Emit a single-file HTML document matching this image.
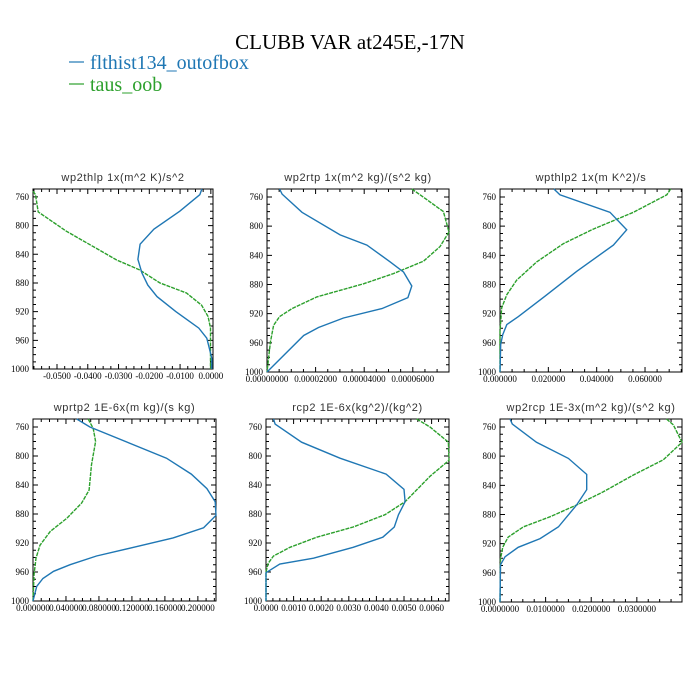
<!DOCTYPE html>
<html><head><meta charset="utf-8">
<style>
body{margin:0;background:#fff;}
svg{display:block;}
.tl{font-family:"Liberation Serif",serif;font-size:9px;fill:#000;}
.pt{font-family:"Liberation Sans",sans-serif;font-size:11px;fill:#333;letter-spacing:0.6px;}
</style></head>
<body>
<svg id="chart" width="700" height="700" viewBox="0 0 700 700" xmlns="http://www.w3.org/2000/svg">
<text x="350" y="49" text-anchor="middle" font-family="Liberation Serif,serif" font-size="21" fill="#000">CLUBB VAR at245E,-17N</text>
<g>
<g>
<line x1="69" y1="62" x2="84" y2="62" stroke="#1f77b4" stroke-width="1.2"/>
<text x="90" y="69" font-family="Liberation Serif,serif" font-size="20" fill="#1f77b4">flthist134_outofbox</text></g>
<g>
<line x1="69" y1="84" x2="84" y2="84" stroke="#2ca02c" stroke-width="1.2"/>
<text x="90" y="91" font-family="Liberation Serif,serif" font-size="20" fill="#2ca02c">taus_oob</text></g>
</g>
</svg>
<script>
// ---- data ----
const yTicks=[760,800,840,880,920,960,1000];
const titles=["wp2thlp  1x(m^2 K)/s^2","wp2rtp  1x(m^2 kg)/(s^2 kg)","wpthlp2  1x(m K^2)/s","wprtp2  1E-6x(m kg)/(s kg)","rcp2  1E-6x(kg^2)/(kg^2)","wp2rcp  1E-3x(m^2 kg)/(s^2 kg)"];
const p1BlueP=[749,757,780,805,826,847,866,883,899,920,932,943,957,985,1000];
const p1BlueV=[-0.0029,-0.0036,-0.0101,-0.0185,-0.023,-0.0237,-0.0224,-0.0205,-0.0175,-0.0114,-0.0075,-0.0039,-0.0013,0.0003,0.0003];
const p1GreenP=[752,757,781,808,848,862,880,894,911,927,943,1000];
const p1GreenV=[-0.0578,-0.057,-0.0561,-0.0469,-0.0306,-0.0231,-0.0166,-0.0079,-0.003,-0.0009,-0.0001,-0.0001];
const p2BlueP=[749,756,781,812,826,849,863,882,898,913,926,939,950,1000];
const p2BlueV=[0.0000052,0.0000062,0.0000144,0.0000301,0.0000411,0.0000507,0.0000562,0.0000596,0.000058,0.0000473,0.0000315,0.0000212,0.0000151,0];
const p2GreenP=[749,757,780,808,828,848,865,879,897,913,924,936,959,1000];
const p2GreenV=[0.0000596,0.000063,0.0000726,0.0000749,0.0000712,0.0000644,0.000052,0.0000397,0.0000205,0.0000103,0.0000052,0.0000027,0.0000014,0];
const p3BlueP=[749,757,781,805,826,862,896,924,935,949,962,1000];
const p3BlueV=[0.0223,0.0248,0.0455,0.0524,0.0469,0.0317,0.0186,0.0076,0.0028,0.0011,0.0003,0];
const p3GreenP=[749,757,781,804,824,849,874,894,912,944,1000];
const p3GreenV=[0.0706,0.069,0.0552,0.0386,0.0262,0.0152,0.0069,0.0028,0.0007,0,0];
const p4BlueP=[749,760,803,825,845,863,882,899,913,926,938,950,959,969,980,1000];
const p4BlueV=[0.053,0.069,0.162,0.192,0.211,0.221,0.222,0.207,0.170,0.122,0.077,0.045,0.025,0.012,0.0045,0];
const p4GreenP=[749,762,780,812,847,865,886,904,923,941,964,1000];
const p4GreenV=[0.067,0.073,0.076,0.071,0.068,0.059,0.041,0.021,0.0085,0.0036,0.0012,0];
const p5BlueP=[749,756,781,803,825,846,863,881,898,912,926,941,949,961,1000];
const p5BlueV=[0.00027,0.00033,0.00129,0.00268,0.00435,0.005,0.00504,0.0048,0.00465,0.00423,0.00316,0.00172,0.0005,0,0];
const p5GreenP=[749,760,781,806,828,863,881,898,912,926,938,948,960,1000];
const p5GreenV=[0.00546,0.00594,0.00661,0.00663,0.00594,0.00504,0.00431,0.00316,0.00184,0.00087,0.00027,0.00008,0,0];
const p6BlueP=[749,756,781,803,825,846,867,897,913,925,938,949,1000];
const p6BlueV=[0.0022,0.0027,0.008,0.015,0.019,0.019,0.0168,0.0128,0.0088,0.004,0.0011,0.0001,0];
const p6GreenP=[749,757,781,805,826,849,867,883,897,911,925,941,1000];
const p6GreenV=[0.0365,0.038,0.0399,0.0358,0.0292,0.0226,0.0168,0.011,0.0051,0.0018,0.0006,0.0001,0];
const p1XTicks=[-0.05,-0.04,-0.03,-0.02,-0.01,0];
const p1XLabels=["-0.0500","-0.0400","-0.0300","-0.0200","-0.0100","0.0000"];
const p2XTicks=[0,0.00002,0.00004,0.00006];
const p2XLabels=["0.00000000","0.00002000","0.00004000","0.00006000"];
const p3XTicks=[0,0.02,0.04,0.06];
const p3XLabels=["0.000000","0.020000","0.040000","0.060000"];
const p4XTicks=[0,0.04,0.08,0.12,0.16,0.2];
const p4XLabels=["0.000000","0.040000","0.080000","0.120000","0.160000","0.200000"];
const p5XTicks=[0,0.001,0.002,0.003,0.004,0.005,0.006];
const p5XLabels=["0.0000","0.0010","0.0020","0.0030","0.0040","0.0050","0.0060"];
const p6XTicks=[0,0.01,0.02,0.03];
const p6XLabels=["0.0000000","0.0100000","0.0200000","0.0300000"];

// ---- layout ----
const panels=[
 {r:[33,189,213,369],d:[-0.0578,0.0007],bp:p1BlueP,bv:p1BlueV,gp:p1GreenP,gv:p1GreenV,xt:p1XTicks,xl:p1XLabels},
 {r:[267,189,449,372],d:[0,0.0000749],bp:p2BlueP,bv:p2BlueV,gp:p2GreenP,gv:p2GreenV,xt:p2XTicks,xl:p2XLabels},
 {r:[500,189,682,372],d:[0,0.0753],bp:p3BlueP,bv:p3BlueV,gp:p3GreenP,gv:p3GreenV,xt:p3XTicks,xl:p3XLabels},
 {r:[33,419,216,601],d:[0,0.222],bp:p4BlueP,bv:p4BlueV,gp:p4GreenP,gv:p4GreenV,xt:p4XTicks,xl:p4XLabels},
 {r:[266,419,449,601],d:[0,0.00663],bp:p5BlueP,bv:p5BlueV,gp:p5GreenP,gv:p5GreenV,xt:p5XTicks,xl:p5XLabels},
 {r:[500,419,682,602],d:[0,0.0399],bp:p6BlueP,bv:p6BlueV,gp:p6GreenP,gv:p6GreenV,xt:p6XTicks,xl:p6XLabels}
];
const NS="http://www.w3.org/2000/svg";
const svg=document.getElementById('chart');
function mk(tag,attrs,parent){const e=document.createElementNS(NS,tag);for(const k in attrs)e.setAttribute(k,attrs[k]);parent.appendChild(e);return e;}
const Y0=749,Y1=1000;
panels.forEach((p,i)=>{
 const [x0,y0,x1,y1]=p.r;
 const xs=v=>x0+(v-p.d[0])/(p.d[1]-p.d[0])*(x1-x0);
 const ys=v=>y0+(v-Y0)/(Y1-Y0)*(y1-y0);
 const g=mk('g',{},svg);
 
 
 const t=mk('text',{x:(x0+x1)/2,y:y0-8,'text-anchor':'middle',class:'pt'},g);
 t.textContent=titles[i];
 
 
 const fr=mk('rect',{x:x0,y:y0,width:x1-x0,height:y1-y0,fill:'none',stroke:'#000','stroke-width':1},g);
 
 
 // y ticks
 for(let v=760;v<=1000;v+=10){
  const y=ys(v),L=(v%40===0)?5:3;
  const tk=mk('path',{d:`M${x0},${y}h${L}M${x1},${y}h${-L}`,stroke:'#000','stroke-width':1},g);
  
  
 }
 yTicks.forEach(v=>{
  const lb=mk('text',{x:x0-4,y:ys(v)+3,'text-anchor':'end',class:'tl'},g);
  lb.textContent=v;
  
  
 });
 // x ticks
 const step=p.xt[1]-p.xt[0];
 for(let k=-20;k<=40;k++){
  const v=p.xt[0]+k*step/4;
  if(v<p.d[0]-1e-12||v>p.d[1]+1e-12)continue;
  const x=xs(v),L=(k%4===0)?5:3;
  const tk=mk('path',{d:`M${x},${y1}v${-L}M${x},${y0}v${L}`,stroke:'#000','stroke-width':1},g);
  
  
 }
 p.xt.forEach((v,j)=>{
  const lb=mk('text',{x:xs(v),y:y1+10,'text-anchor':'middle',class:'tl'},g);
  lb.textContent=p.xl[j];
  
  
 });
 const line=(P,V,col,dash,name)=>{
  const d=P.map((pp,j)=>(j?'L':'M')+xs(V[j]).toFixed(1)+','+ys(pp).toFixed(1)).join('');
  const a={d:d,fill:'none',stroke:col,'stroke-width':1.4};
  if(dash)a['stroke-dasharray']=dash;
  const e=mk('path',a,g);
  
  
 };
 line(p.gp,p.gv,'#2ca02c','4,1','series-taus-oob');
 line(p.bp,p.bv,'#1f77b4',null,'series-flthist134');
});
</script>
</body></html>
